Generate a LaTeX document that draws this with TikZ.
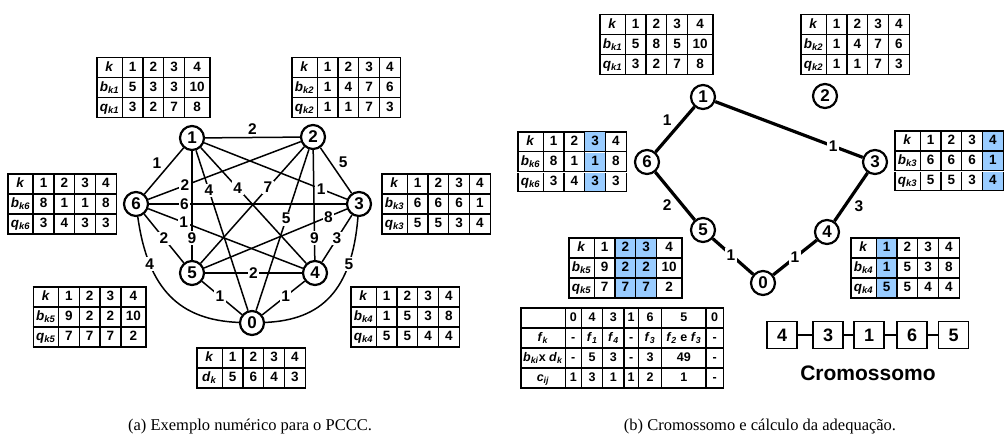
\documentclass[tikz,border=0pt]{standalone}
\usepackage{fontspec}
\setmainfont{Liberation Serif}
\setsansfont{Liberation Sans}
\usepackage{array,colortbl}
\definecolor{hl}{RGB}{153,204,255}
\newcolumntype{C}[1]{>{\rule[-5.6pt]{0pt}{18.7pt}}w{c}{#1}}
\newcolumntype{N}{|C{24pt}|C{19.5pt}|C{19.5pt}|C{19.5pt}|C{19.5pt}|}
\newcolumntype{T}{|C{24pt}|C{19.5pt}|C{19.5pt}|C{19.5pt}|C{24pt}|}
\newcommand\vs[2]{\textit{#1}\textsubscript{\textit{#2}}}
\newcommand\tabfont{\sffamily\bfseries\fontsize{13.5}{15}\selectfont}
\setlength\arrayrulewidth{1.3pt}
\setlength\tabcolsep{0pt}
\newcommand\KTabN[2]{\begin{tabular}{N}\hline \textit{k}&1&2&3&4\\\hline #1\\\hline #2\\\hline\end{tabular}}
\newcommand\KTabT[2]{\begin{tabular}{T}\hline \textit{k}&1&2&3&4\\\hline #1\\\hline #2\\\hline\end{tabular}}
\begin{document}
\begin{tikzpicture}[x=1pt,y=-1pt,
  tbl/.style={inner sep=0pt,font=\tabfont},
  vtx/.style={circle,draw,line width=2.2pt,minimum size=24pt,inner sep=0pt,fill=white,font=\sffamily\bfseries\fontsize{17}{17}\selectfont},
  lbl/.style={fill=white,inner sep=1.5pt,font=\sffamily\bfseries\fontsize{15.5}{15.5}\selectfont},
  lblo/.style={inner sep=2pt,font=\sffamily\bfseries\fontsize{15.5}{15.5}\selectfont},
  ledge/.style={line width=1.5pt},
  redge/.style={line width=3.2pt},
  gene/.style={draw,line width=1.4pt,minimum width=30pt,minimum height=27pt,inner sep=0pt,font=\sffamily\bfseries\fontsize{18}{18}\selectfont},
  captxt/.style={font=\fontsize{16.5}{18}\selectfont}]
\useasboundingbox (0,0) rectangle (1007,441);

% ---------- left panel tables
\node[tbl,anchor=north west] (T1) at (96,57) {\KTabT{\vs{b}{k1}&5&3&3&10}{\vs{q}{k1}&3&2&7&8}};
\node[tbl,anchor=north west] (T2) at (291,57) {\KTabN{\vs{b}{k2}&1&4&7&6}{\vs{q}{k2}&1&1&7&3}};
\node[tbl,anchor=north west] (T6) at (7,173) {\KTabN{\vs{b}{k6}&8&1&1&8}{\vs{q}{k6}&3&4&3&3}};
\node[tbl,anchor=north west] (T3) at (381,173) {\KTabN{\vs{b}{k3}&6&6&6&1}{\vs{q}{k3}&5&5&3&4}};
\node[tbl,anchor=north east] (T5) at (147,286) {\KTabT{\vs{b}{k5}&9&2&2&10}{\vs{q}{k5}&7&7&7&2}};
\node[tbl,anchor=north west] (T4) at (350,286) {\KTabN{\vs{b}{k4}&1&5&3&8}{\vs{q}{k4}&5&5&4&4}};
\node[tbl,anchor=north west] (Td) at (196,347) {\begin{tabular}{N}\hline \textit{k}&1&2&3&4\\\hline \vs{d}{k}&5&6&4&3\\\hline\end{tabular}};

% ---------- left panel graph
\node[vtx] (L1) at (192,138) {1};
\node[vtx] (L2) at (313,137) {2};
\node[vtx] (L6) at (136,204) {6};
\node[vtx] (L3) at (359,204) {3};
\node[vtx] (L5) at (192,273) {5};
\node[vtx] (L4) at (315,273) {4};
\node[vtx] (L0) at (252,323) {0};

\draw[ledge] (L1) -- node[lblo,above] {2} (L2);
\draw[ledge] (L1) -- node[lblo,above left] {1} (L6);
\draw[ledge] (L2) -- node[lblo,above right] {5} (L3);
\draw[ledge] (L1) -- node[lbl,pos=.8] {9} (L5);
\draw[ledge] (L1) -- node[lbl,pos=.25] {4} (L0);
\draw[ledge] (L1) -- node[lbl,pos=.35] {4} (L4);
\draw[ledge] (L1) -- node[lbl,pos=.82] {1} (L3);
\draw[ledge] (L2) -- node[lbl,pos=.35] {7} (L5);
\draw[ledge] (L2) -- node[lbl,pos=.43] {5} (L0);
\draw[ledge] (L2) -- node[lbl,pos=.8] {9} (L4);
\draw[ledge] (L5) -- node[lbl,pos=.87] {8} (L3);
\draw[ledge] (L4) -- node[lbl,pos=.5] {3} (L3);
\draw[ledge] (L6) -- node[lbl,pos=.24] {2} (L2);
\draw[ledge] (L6) -- node[lbl,pos=.18] {6} (L3);
\draw[ledge] (L6) -- node[lbl,pos=.23] {1} (L4);
\draw[ledge] (L6) -- node[lbl,pos=.5] {2} (L5);
\draw[ledge] (L5) -- node[lbl,pos=.5] {2} (L4);
\draw[ledge] (L5) -- node[lbl,pos=.45] {1} (L0);
\draw[ledge] (L4) -- node[lbl,pos=.45] {1} (L0);
\draw[ledge] (L6) .. controls (148,290) and (180,320) .. node[lbl,pos=.25] {4} (L0);
\draw[ledge] (L3) .. controls (352,290) and (322,320) .. node[lbl,pos=.25] {5} (L0);

% ---------- right panel tables
\node[tbl,anchor=north west] (R1t) at (599,14) {\KTabT{\vs{b}{k1}&5&8&5&10}{\vs{q}{k1}&3&2&7&8}};
\node[tbl,anchor=north west] (R2t) at (800,14) {\KTabN{\vs{b}{k2}&1&4&7&6}{\vs{q}{k2}&1&1&7&3}};
\node[tbl,anchor=north west] (R6t) at (517,131) {\begin{tabular}{N}\hline \textit{k}&1&2&\cellcolor{hl}3&4\\\hline \vs{b}{k6}&8&1&\cellcolor{hl}1&8\\\hline \vs{q}{k6}&3&4&\cellcolor{hl}3&3\\\hline\end{tabular}};
\node[tbl,anchor=north west] (R3t) at (894,130) {\begin{tabular}{N}\hline \textit{k}&1&2&3&\cellcolor{hl}4\\\hline \vs{b}{k3}&6&6&6&\cellcolor{hl}1\\\hline \vs{q}{k3}&5&5&3&\cellcolor{hl}4\\\hline\end{tabular}};
\node[tbl,anchor=north west] (R5t) at (568,237) {\begin{tabular}{T}\hline \textit{k}&1&\cellcolor{hl}2&\cellcolor{hl}3&4\\\hline \vs{b}{k5}&9&\cellcolor{hl}2&\cellcolor{hl}2&10\\\hline \vs{q}{k5}&7&\cellcolor{hl}7&\cellcolor{hl}7&2\\\hline\end{tabular}};
\node[tbl,anchor=north west] (R4t) at (850,237) {\begin{tabular}{N}\hline \textit{k}&\cellcolor{hl}1&2&3&4\\\hline \vs{b}{k4}&\cellcolor{hl}1&5&3&8\\\hline \vs{q}{k4}&\cellcolor{hl}5&5&4&4\\\hline\end{tabular}};
\node[tbl,anchor=north west] (Big) at (520,307) {\fontsize{12.5}{14}\selectfont\begin{tabular}{|C{43pt}|C{15pt}|C{20pt}|C{20pt}|C{13pt}|C{22pt}|C{43pt}|C{16pt}|}\hline
 &0&4&3&1&6&5&0\\\hline
\vs{f}{k}&-&\vs{f}{1}&\vs{f}{4}&-&\vs{f}{3}&\vs{f}{2} e \vs{f}{3}&-\\\hline
\vs{b}{ki}x \vs{d}{k}&-&5&3&-&3&49&-\\\hline
\vs{c}{ij}&1&3&1&1&2&1&-\\\hline\end{tabular}};

% ---------- right panel graph
\node[vtx] (R1) at (703,97) {1};
\node[vtx] (R2) at (825,96) {2};
\node[vtx] (R6) at (647,162) {6};
\node[vtx] (R3) at (875,162) {3};
\node[vtx] (R5) at (703,230) {5};
\node[vtx] (R4) at (827,232) {4};
\node[vtx] (R0) at (763,283) {0};

\draw[redge] (R1) -- node[lblo,above left] {1} (R6);
\draw[redge] (R6) -- node[lblo,below left] {2} (R5);
\draw[redge] (R5) -- node[lbl,pos=.45] {1} (R0);
\draw[redge] (R4) -- node[lbl,pos=.5] {1} (R0);
\draw[redge] (R3) -- node[lblo,below right] {3} (R4);
\draw[redge] (R1) -- node[lbl,pos=.8] {1} (R3);

% ---------- chromosome
\node[gene] (G1) at (782,335) {4};
\node[gene] (G2) at (828,335) {3};
\node[gene] (G3) at (869,335) {1};
\node[gene] (G4) at (912,335) {6};
\node[gene] (G5) at (953.5,335) {5};
\draw[line width=1.4pt] (G1) -- (G2) (G2) -- (G3) (G3) -- (G4) (G4) -- (G5);
\node[font=\sffamily\bfseries\fontsize{21}{21}\selectfont] (Cr) at (868,373) {Cromossomo};

% ---------- captions
\node[captxt] (CapA) at (250,427) {(a) Exemplo numérico para o PCCC.};
\node[captxt] (CapB) at (760,427) {(b) Cromossomo e cálculo da adequação.};
\end{tikzpicture}
\end{document}
